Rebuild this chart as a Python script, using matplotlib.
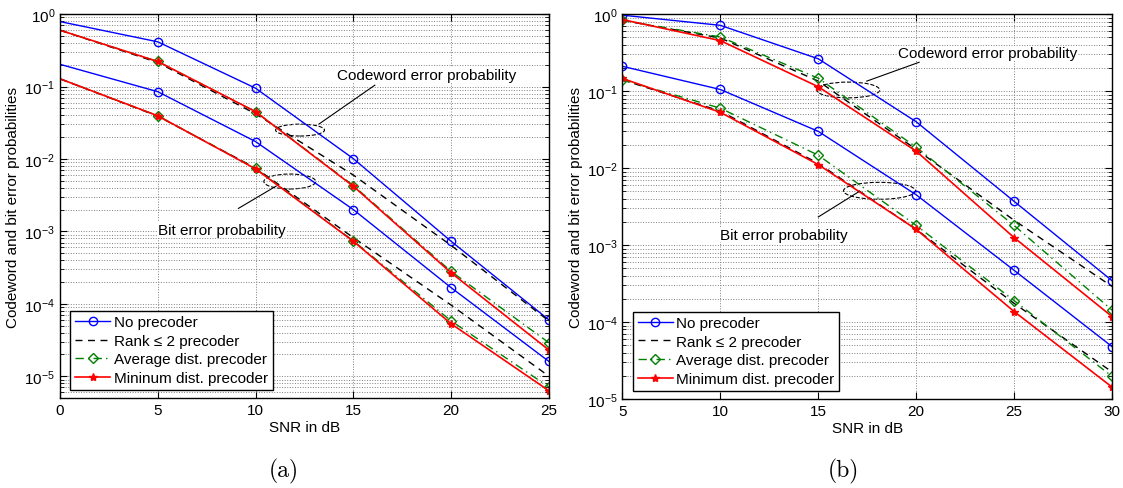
import matplotlib
matplotlib.use('Agg')
import matplotlib.pyplot as plt
from matplotlib.patches import Ellipse
from matplotlib.ticker import LogLocator, NullFormatter

plt.rcParams['font.family'] = ['Liberation Sans', 'DejaVu Sans']
plt.rcParams['font.size'] = 11
plt.rcParams['mathtext.fontset'] = 'custom'
plt.rcParams['mathtext.rm'] = 'Liberation Sans'
plt.rcParams['mathtext.it'] = 'Liberation Sans:italic'

# data, panel (a)
snr_a = [0, 5, 10, 15, 20, 25]
cw_none_a = [0.79, 0.415, 0.095, 0.0101, 7.3e-4, 6.0e-5]
cw_rank_a = [0.60, 0.215, 0.042, 0.0060, 6.4e-4, 5.8e-5]
cw_avg_a = [0.60, 0.222, 0.045, 0.0043, 2.8e-4, 2.9e-5]
cw_min_a = [0.60, 0.222, 0.045, 0.0042, 2.68e-4, 2.3e-5]
bit_none_a = [0.203, 0.085, 0.0174, 0.0020, 1.67e-4, 1.6e-5]
bit_rank_a = [0.128, 0.039, 0.0075, 8.2e-4, 9.6e-5, 1.0e-5]
bit_avg_a = [0.128, 0.0395, 0.0074, 7.4e-4, 5.8e-5, 7.1e-6]
bit_min_a = [0.128, 0.0395, 0.0073, 7.3e-4, 5.3e-5, 6.3e-6]

# panel (b)
snr_b = [5, 10, 15, 20, 25, 30]
cw_none_b = [0.97, 0.716, 0.263, 0.040, 0.0037, 3.45e-4]
cw_rank_b = [0.83, 0.49, 0.135, 0.0175, 0.0021, 2.9e-4]
cw_avg_b = [0.83, 0.506, 0.147, 0.0187, 0.0018, 1.43e-4]
cw_min_b = [0.85, 0.453, 0.114, 0.0166, 0.00125, 1.18e-4]
bit_none_b = [0.21, 0.105, 0.030, 0.0045, 4.7e-4, 4.8e-5]
bit_rank_b = [0.14, 0.055, 0.0115, 0.0016, 1.75e-4, 2.25e-5]
bit_avg_b = [0.14, 0.060, 0.0147, 0.0018, 1.9e-4, 1.97e-5]
bit_min_b = [0.146, 0.053, 0.0111, 0.0016, 1.37e-4, 1.43e-5]

labels_a = ['No precoder', 'Rank \u2264 2 precoder', 'Average dist. precoder', 'Mininum dist. precoder']
labels_b = ['No precoder', 'Rank \u2264 2 precoder', 'Average dist. precoder', 'Minimum dist. precoder']

BLUE = (0, 0, 1)
GREEN = (0, 0.5, 0)
RED = (1, 0, 0)


def draw(ax, snr, cw, bit, labels, mev, ylim):
    styles = [dict(color=BLUE, ls='-', marker='o', mfc='none', ms=6, lw=1.0),
              dict(color='black', ls=(0, (5, 4)), lw=1.0),
              dict(color=GREEN, ls=(0, (6, 3, 1, 3)), marker='D', mfc='none', ms=5, lw=1.0),
              dict(color=RED, ls='-', marker='*', ms=6, lw=1.2)]
    handles = []
    for i in range(4):
        st = dict(styles[i])
        if 'marker' in st:
            st['markevery'] = mev
        h, = ax.plot(snr, cw[i], label=labels[i], **st)
        ax.plot(snr, bit[i], **st)
        handles.append(h)
    ax.set_yscale('log')
    ax.set_xlim(snr[0], snr[-1])
    ax.set_ylim(*ylim)
    ax.set_xticks(snr)
    ax.yaxis.set_major_locator(LogLocator(base=10, numticks=10))
    ax.yaxis.set_minor_locator(LogLocator(base=10, subs=range(2, 10), numticks=20))
    ax.yaxis.set_minor_formatter(NullFormatter())
    ax.grid(True, which='major', ls=':', color='0.5', lw=0.7)
    ax.grid(True, which='minor', axis='y', ls=':', color='0.5', lw=0.7)
    ax.tick_params(which='both', direction='in', top=True, right=True)
    ax.tick_params(which='major', length=5)
    ax.tick_params(which='minor', length=3)
    for s in ax.spines.values():
        s.set_linewidth(1.0)
    ax.set_xlabel('SNR in dB', labelpad=2)
    ax.set_ylabel('Codeword and bit error probabilities', labelpad=3)
    leg = ax.legend(handles=handles, loc='lower left', bbox_to_anchor=(0.012, 0.01),
                    fancybox=False, edgecolor='black', framealpha=1,
                    handlelength=2.3, handletextpad=0.25, labelspacing=0.3,
                    borderpad=0.3, borderaxespad=0.3)
    leg.get_frame().set_linewidth(1.0)


def note(ax, text, tpos, line, ell):
    ax.text(tpos[0], tpos[1], text, transform=ax.transAxes, ha='center', va='center',
            bbox=dict(fc='white', ec='none', pad=0.5))
    ax.plot([line[0], line[2]], [line[1], line[3]], transform=ax.transAxes,
            color='black', lw=0.8, clip_on=False)
    ax.add_patch(Ellipse((ell[0], ell[1]), ell[2], ell[3], transform=ax.transAxes,
                         fill=False, ls='--', lw=0.8, ec='black'))


fig = plt.figure(figsize=(11.23, 4.89), dpi=100)
ax1 = fig.add_axes([0.0534, 0.184, 0.4354, 0.785])
ax2 = fig.add_axes([0.5543, 0.182, 0.4359, 0.787])

draw(ax1, snr_a, [cw_none_a, cw_rank_a, cw_avg_a, cw_min_a],
     [bit_none_a, bit_rank_a, bit_avg_a, bit_min_a], labels_a, slice(1, None), (5e-6, 1))
draw(ax2, snr_b, [cw_none_b, cw_rank_b, cw_avg_b, cw_min_b],
     [bit_none_b, bit_rank_b, bit_avg_b, bit_min_b], labels_b, slice(0, None), (1e-5, 1))

note(ax1, 'Codeword error probability', (0.75, 0.841), (0.644, 0.815, 0.530, 0.714),
     (0.491, 0.698, 0.100, 0.031))
note(ax1, 'Bit error probability', (0.332, 0.4375), (0.365, 0.494, 0.442, 0.552),
     (0.470, 0.564, 0.106, 0.039))
note(ax2, 'Codeword error probability', (0.745, 0.898), (0.606, 0.875, 0.499, 0.826),
     (0.461, 0.803, 0.129, 0.041))
note(ax2, 'Bit error probability', (0.329, 0.427), (0.400, 0.473, 0.482, 0.538),
     (0.525, 0.541, 0.147, 0.044))

fig.text(283.5 / 1123, 1 - 471.7 / 489, '(a)', family='cmr10', fontsize=17,
         ha='center', va='center')
fig.text(843.6 / 1123, 1 - 471.7 / 489, '(b)', family='cmr10', fontsize=17,
         ha='center', va='center')

fig.savefig('out.png', dpi=100)
